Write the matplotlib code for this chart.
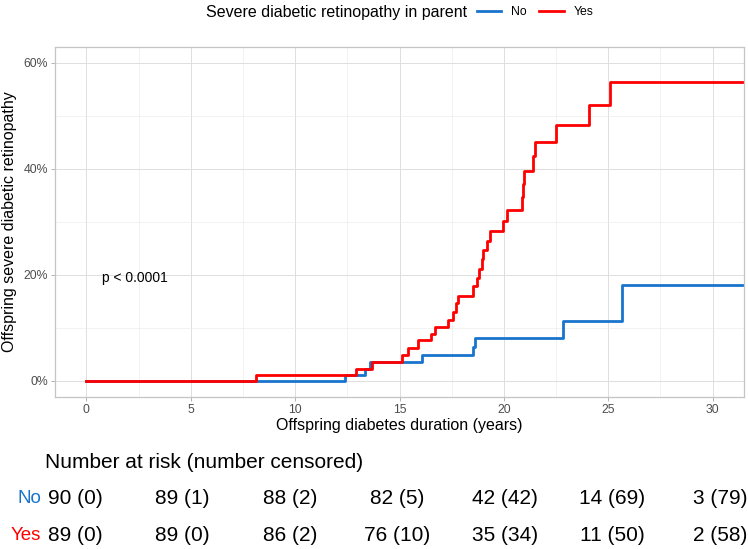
import numpy as np
import matplotlib
matplotlib.use('Agg')
import matplotlib.pyplot as plt
from matplotlib.ticker import FuncFormatter, MultipleLocator

plt.rcParams['font.family'] = ['Liberation Sans', 'DejaVu Sans']

# cumulative incidence step curves (years, %)
t_no = [0, 12.39, 13.35, 13.6, 16.06, 18.53, 18.61, 22.81, 25.66, 31.5]
v_no = [0, 1.1, 2.3, 3.5, 4.8, 6.3, 8.0, 11.2, 18.1, 18.1]

t_yes = [0, 8.13, 12.9, 13.7, 15.1, 15.4, 15.9, 16.5, 16.7, 17.3, 17.55, 17.7,
         17.8, 18.5, 18.7, 18.8, 18.93, 18.98, 19.17, 19.33, 19.97, 20.13,
         20.85, 20.92, 20.97, 21.4, 21.5, 22.5, 24.07, 25.1, 31.5]
v_yes = [0, 1.1, 2.3, 3.5, 4.9, 6.2, 7.6, 8.9, 10.1, 11.5, 12.9, 14.7,
         16.0, 17.8, 19.3, 21.1, 22.9, 24.7, 26.4, 28.3, 30.2, 32.3,
         34.7, 37.2, 39.6, 42.4, 45.1, 48.2, 52.0, 56.4, 56.4]

# number at risk table
risk_times = [0, 5, 10, 15, 20, 25, 30]
risk_no = ['90 (0)', '89 (1)', '88 (2)', '82 (5)', '42 (42)', '14 (69)', '3 (79)']
risk_yes = ['89 (0)', '89 (0)', '86 (2)', '76 (10)', '35 (34)', '11 (50)', '2 (58)']

groups = ['No', 'Yes']
colors = ['#1874CD', '#FF0000']

W, H = 748, 549
fig = plt.figure(figsize=(W / 100, H / 100), dpi=100)

# main panel
ax = fig.add_axes([55 / W, 1 - 396.7 / H, 689 / W, 350 / H])
ax.step(t_no, v_no, where='post', color=colors[0], lw=2.0, label=groups[0])
ax.step(t_yes, v_yes, where='post', color=colors[1], lw=2.0, label=groups[1])

ax.set_xlim(-1.5, 31.5)
ax.set_ylim(-3, 63)
ax.xaxis.set_major_locator(MultipleLocator(5))
ax.xaxis.set_minor_locator(MultipleLocator(2.5))
ax.yaxis.set_major_locator(MultipleLocator(20))
ax.yaxis.set_minor_locator(MultipleLocator(10))
ax.yaxis.set_major_formatter(FuncFormatter(lambda v, p: '%d%%' % v))
ax.grid(which='major', color='#DEDEDE', lw=0.7)
ax.grid(which='minor', color='#EBEBEB', lw=0.45)
ax.set_axisbelow(True)
for s in ax.spines.values():
    s.set_color('#C4C4C4')
    s.set_linewidth(0.9)
ax.tick_params(which='major', colors='#B3B3B3', labelcolor='#4D4D4D',
               labelsize=8.8, length=3, width=0.7, pad=2)
ax.tick_params(which='minor', length=0)
ax.set_xlabel('Offspring diabetes duration (years)', fontsize=11.5, labelpad=2)
ax.set_ylabel('Offspring severe diabetic retinopathy', fontsize=11.5, labelpad=5)
ax.text(0.75, 19.3, 'p < 0.0001', fontsize=10, ha='left', va='center')

# legend on top
fig.text(467 / W, 1 - 12 / H, 'Severe diabetic retinopathy in parent',
         fontsize=11.5, ha='right', va='center')
fig.legend(loc='center left', bbox_to_anchor=(477 / W, 1 - 12 / H), ncol=2,
           frameon=False, fontsize=8.8, handlelength=2.0, handletextpad=0.8,
           columnspacing=1.0, borderpad=0, borderaxespad=0)

# risk table
tab = fig.add_axes([0, 0, 1, 110 / H])
tab.set_xlim(-75 / 21.5, (W - 75) / 21.5)
tab.set_ylim(549, 439)
tab.axis('off')
tab.text(-30 / 21.5, 462, 'Number at risk (number censored)', fontsize=15,
         ha='left', va='center')
for lab, col, row, y in zip(groups, colors, [risk_no, risk_yes], [498, 535]):
    tab.text(-34 / 21.5, y, lab, color=col, fontsize=13.5, ha='right', va='center')
    for t, s in zip(risk_times, row):
        tab.text(t, y, s, fontsize=15, ha='center', va='center')

fig.savefig('out.png', dpi=100)
